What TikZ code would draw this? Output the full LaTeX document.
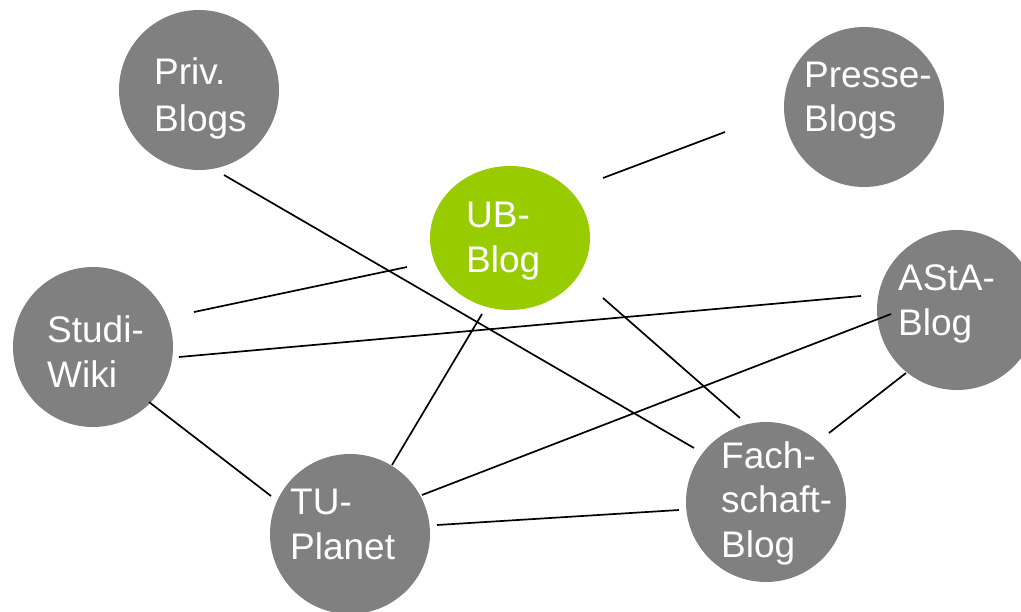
\documentclass[tikz,border=0pt]{standalone}
\usepackage{fontspec}
\setmainfont{Liberation Sans}
\usetikzlibrary{calc}
\definecolor{nodegray}{HTML}{808080}
\definecolor{ubgreen}{HTML}{99CC00}
\tikzset{
  bubble/.style={circle, fill=nodegray, draw=none, minimum size=160pt, inner sep=0pt},
  ubbubble/.style={ellipse, fill=ubgreen, draw=none, minimum width=160pt, minimum height=144pt, inner sep=0pt},
  lbl/.style={anchor=base west, inner sep=0pt, text=white, font=\fontsize{37}{45}\selectfont},
  link/.style={draw=black, line width=1.7pt}
}
\usetikzlibrary{shapes.geometric}
\begin{document}
\begin{tikzpicture}[x=1pt,y=-1pt]
\useasboundingbox (0,0) rectangle (1021,611);
\clip (0,0) rectangle (1021,611);
% bubbles
\node[bubble] (priv) at (199,90) {};
\node[bubble] (presse) at (864,107) {};
\node[ubbubble] (ub) at (510,238) {};
\node[bubble] (studi) at (93,347) {};
\node[bubble] (asta) at (957,310) {};
\node[bubble] (tu) at (350,534) {};
\node[bubble] (fach) at (766,502) {};
% labels
\node[lbl] (privA) at (154,84) {Priv.};
\node[lbl] (privB) at (154,131) {Blogs};
\node[lbl] (presseA) at (804,87) {Presse-};
\node[lbl] (presseB) at (804,131) {Blogs};
\node[lbl] (ubA) at (466,227) {UB-};
\node[lbl] (ubB) at (466,272) {Blog};
\node[lbl] (studiA) at (47,342) {Studi-};
\node[lbl] (studiB) at (47,387) {Wiki};
\node[lbl] (astaA) at (898,290) {AStA-};
\node[lbl] (astaB) at (898,335) {Blog};
\node[lbl] (tuA) at (290,514) {TU-};
\node[lbl] (tuB) at (290,559) {Planet};
\node[lbl] (fachA) at (721,468) {Fach-};
\node[lbl] (fachB) at (721,512) {schaft-};
\node[lbl] (fachC) at (721,557) {Blog};
% links
\draw[link] ($(ub)+(93,-60)$) -- ($(presse)+(-139,25)$);
\draw[link] ($(priv)+(25,85)$) -- ($(fach)+(-72,-54)$);
\draw[link] ($(studi)+(101,-35)$) -- ($(ub)+(-103,29)$);
\draw[link] ($(studi)+(86,10)$) -- ($(asta)+(-96,-14)$);
\draw[link] ($(studi)+(56,55)$) -- ($(tu)+(-79,-38)$);
\draw[link] ($(ub)+(-28,76)$) -- ($(tu)+(42,-69)$);
\draw[link] ($(ub)+(93,60)$) -- ($(fach)+(-26,-84)$);
\draw[link] ($(tu)+(72,-39)$) -- ($(asta)+(-66,4)$);
\draw[link] ($(asta)+(-51,63)$) -- ($(fach)+(63,-69)$);
\draw[link] ($(tu)+(87,-9)$) -- ($(fach)+(-87,8)$);
\end{tikzpicture}
\end{document}
